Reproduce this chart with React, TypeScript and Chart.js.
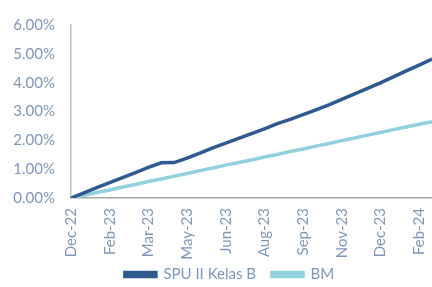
import React, { useEffect, useRef } from "react";
import { Chart, registerables } from "chart.js";

Chart.register(...registerables);

const categories = [
  "Dec-22", "Jan-23", "Jan-23", "Feb-23", "Feb-23", "Mar-23", "Mar-23", "Apr-23", "Apr-23",
  "May-23", "May-23", "Jun-23", "Jun-23", "Jul-23", "Jul-23", "Aug-23", "Aug-23", "Sep-23",
  "Sep-23", "Oct-23", "Oct-23", "Nov-23", "Nov-23", "Dec-23", "Dec-23", "Jan-24", "Jan-24",
  "Feb-24", "Feb-24",
];

const spuKelasB = [
  0.0, 0.18, 0.36, 0.53, 0.71, 0.88, 1.06, 1.22, 1.23, 1.38, 1.56, 1.74, 1.9, 2.07, 2.23,
  2.4, 2.58, 2.73, 2.89, 3.06, 3.23, 3.42, 3.61, 3.8, 3.99, 4.2, 4.41, 4.61, 4.82,
];

const bm = [
  0.0, 0.09, 0.19, 0.28, 0.38, 0.47, 0.57, 0.66, 0.76, 0.85, 0.95, 1.04, 1.14, 1.23, 1.32,
  1.42, 1.51, 1.61, 1.7, 1.8, 1.89, 1.99, 2.08, 2.18, 2.27, 2.37, 2.46, 2.56, 2.65,
];

const yTicks = [0, 1, 2, 3, 4, 5, 6];
const labelEvery = 3;

export default function App() {
  const ref = useRef<HTMLCanvasElement | null>(null);

  useEffect(() => {
    document.body.style.margin = "0";
    const canvas = ref.current;
    if (!canvas) return;
    const tickColor = "#7F97B9";
    const font = { family: "Lato", size: 15 };
    const noClip = () => undefined;
    const chart = new Chart(canvas, {
      type: "line",
      data: {
        labels: categories,
        datasets: [
          {
            label: "SPU II Kelas B",
            data: spuKelasB,
            borderColor: "#2F5A8F",
            backgroundColor: "#2F5A8F",
            borderWidth: 3.5,
            pointRadius: 0,
            tension: 0,
          },
          {
            label: "BM",
            data: bm,
            borderColor: "#93D0DD",
            backgroundColor: "#93D0DD",
            borderWidth: 3.5,
            pointRadius: 0,
            tension: 0,
          },
        ],
      },
      options: {
        animation: false,
        responsive: false,
        maintainAspectRatio: false,
        layout: { padding: { top: 7, left: 27, right: 0, bottom: -5 } },
        plugins: {
          tooltip: { enabled: false },
          legend: {
            position: "bottom",
            labels: {
              color: tickColor,
              font,
              boxWidth: 31,
              boxHeight: 4,
              padding: 16,
            },
          },
        },
        scales: {
          x: {
            type: "category",
            offset: false,
            grid: { display: false, drawTicks: false },
            border: { display: true, color: "#A6A6A6", width: 1.5 },
            afterFit: (scale: any) => {
              scale.paddingLeft = 0;
              scale.paddingRight = 0;
              scale.height = 53;
              scale._computeLabelArea = noClip;
            },
            ticks: {
              color: tickColor,
              font,
              autoSkip: false,
              maxRotation: 90,
              minRotation: 90,
              padding: 10,
              callback: (_v: any, i: number) => (i % labelEvery === 0 ? categories[i] : ""),
            },
          },
          y: {
            min: yTicks[0],
            max: yTicks[yTicks.length - 1],
            grid: { display: false, drawTicks: false },
            border: { display: true, color: "#BFBFBF", width: 1.5 },
            afterFit: (scale: any) => {
              scale.width = 44;
              scale._computeLabelArea = noClip;
            },
            afterBuildTicks: (axis: any) => {
              axis.ticks = yTicks.map((v) => ({ value: v }));
            },
            ticks: {
              color: tickColor,
              font,
              padding: 16,
              callback: (v: any) => Number(v).toFixed(2) + "%",
            },
          },
        },
      },
    });
    return () => chart.destroy();
  }, []);

  return <canvas ref={ref} width={432} height={287} style={{ display: "block" }} />;
}
